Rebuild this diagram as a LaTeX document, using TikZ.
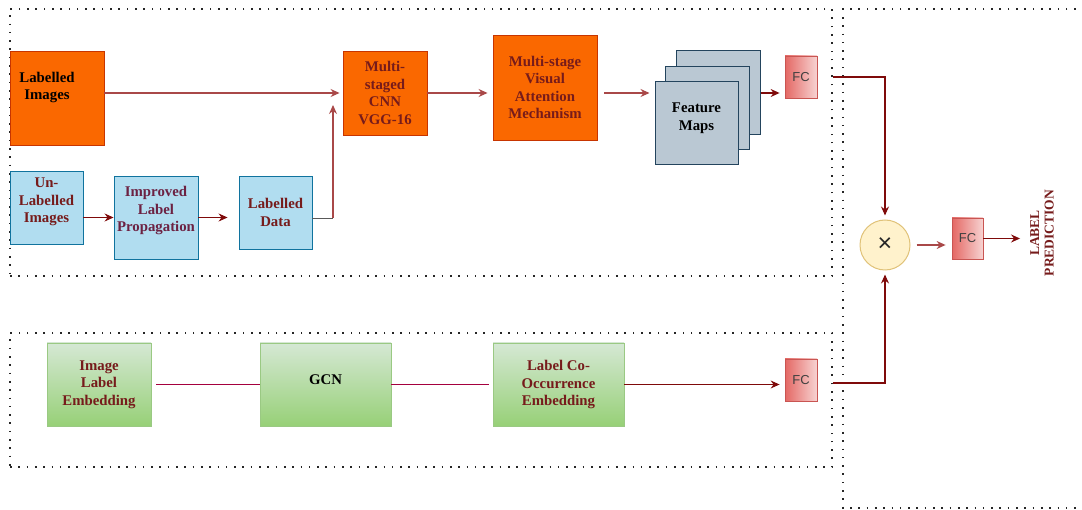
\documentclass[tikz,border=0pt]{standalone}
\usepackage{fontspec}
\setmainfont{Liberation Serif}
\newfontfamily\fcfont{Liberation Sans}
\usetikzlibrary{arrows.meta,calc}

\definecolor{orfill}{HTML}{FA6800}
\definecolor{ordraw}{HTML}{C73500}
\definecolor{blfill}{HTML}{B1DDF0}
\definecolor{bldraw}{HTML}{10739E}
\definecolor{fmfill}{HTML}{BAC8D3}
\definecolor{fmdraw}{HTML}{23445D}
\definecolor{grtop}{HTML}{D5E8D4}
\definecolor{grbot}{HTML}{97D077}
\definecolor{grdraw}{HTML}{9AC983}
\definecolor{fcdark}{HTML}{E46864}
\definecolor{fclight}{HTML}{F7D3D2}
\definecolor{fcdraw}{HTML}{C95552}
\definecolor{mulfill}{HTML}{FFF2CC}
\definecolor{muldraw}{HTML}{E0C278}
\definecolor{txtred}{HTML}{761B1B}
\definecolor{txtplum}{HTML}{6C2142}
\definecolor{linkrose}{HTML}{A94848}
\definecolor{linkdark}{HTML}{7F0A0A}
\definecolor{linkcrim}{HTML}{A5003E}

\begin{document}
\begin{tikzpicture}[x=1pt,y=-1pt,
  boxtxt/.style={font=\bfseries\fontsize{14.8}{17.5}\selectfont, align=center},
  orbox/.style={draw=ordraw, fill=orfill, line width=0.9pt, inner sep=0pt, boxtxt, text=txtred},
  blbox/.style={draw=bldraw, fill=blfill, line width=0.9pt, inner sep=0pt, boxtxt, text=txtred},
  fmbox/.style={draw=fmdraw, fill=fmfill, line width=1pt, inner sep=0pt, boxtxt, text=black,
                minimum width=83pt, minimum height=83pt},
  grbox/.style={draw=grdraw, top color=grtop, bottom color=grbot, line width=0.9pt,
                inner sep=0pt, boxtxt, text=txtred, minimum height=83pt},
  fcbox/.style={draw=fcdraw, left color=fcdark, right color=fclight, line width=0.8pt,
                inner sep=0pt, font=\fcfont\fontsize{13}{15}\selectfont, text=black!75},
  dotbox/.style={draw=black!85, line width=1.6pt, dash pattern=on 1.6pt off 6.7pt, inner sep=0pt},
  tip/.style={-{Stealth[length=9pt,width=8pt,inset=3pt]}},
  arr/.style={tip, draw=linkrose, line width=1.2pt},
  arrd/.style={tip, draw=linkdark, line width=1.2pt},
  plain/.style={draw=linkcrim, line width=1.1pt}]

\useasboundingbox (0,0) rectangle (1082,510);

% dotted containers
\node[dotbox, minimum width=822pt, minimum height=267pt] (topbox) at (421,142.5) {};
\node[dotbox, minimum width=822pt, minimum height=134pt] (botbox) at (421,400) {};
\draw[draw=black!85, line width=1.6pt, dash pattern=on 1.6pt off 6.7pt]
  (1084,9) -- (843,9) -- (843,508) -- (1084,508);

% upper branch
\node[orbox, minimum width=94pt, minimum height=94pt,
  label={[boxtxt, text=black, xshift=-10pt, yshift=10.5pt]center:Labelled\\Images}] (li) at (57,98) {};
\node[orbox, minimum width=84pt, minimum height=84pt] (cnn) at (385,93) {Multi-\\staged\\CNN\\VGG-16};
\node[orbox, minimum width=104pt, minimum height=105pt] (mvam) at (545,87.5) {Multi-stage\\Visual\\Attention\\Mechanism};

\node[blbox, minimum width=73pt, minimum height=73pt,
  label={[boxtxt, text=txtred, yshift=5.5pt]center:Un-\\Labelled\\Images}] (ul) at (46.5,207.5) {};
\node[blbox, minimum width=84pt, minimum height=83pt,
  label={[boxtxt, text=txtplum, yshift=6.5pt]center:Improved\\Label\\Propagation}] (ilp) at (156,217.5) {};
\node[blbox, minimum width=73pt, minimum height=73pt] (ld) at (275.5,212.5) {Labelled\\Data};

\node[fmbox, minimum width=84pt, minimum height=84pt] (fm3) at (718,93) {};
\node[fmbox, minimum width=84pt] (fm2) at (707,108.5) {};
\node[fmbox, label={[boxtxt, text=black, yshift=5.5pt]center:Feature\\Maps}] (fm1) at (696.5,123.5) {};

\node[fcbox, minimum width=32pt, minimum height=42pt] (fc1) at (801,77) {FC};

% lower branch
\node[grbox, minimum width=104pt] (ile) at (99,384.5) {Image\\Label\\Embedding};
\node[grbox, minimum width=131pt,
  label={[boxtxt, text=black, yshift=4.5pt]center:GCN}] (gcn) at (325.5,384.5) {};
\node[grbox, minimum width=131pt] (lce) at (558.5,384.5) {Label Co-\\Occurrence\\Embedding};
\node[fcbox, minimum width=32pt, minimum height=42pt] (fc2) at (801,380) {FC};

% fusion and output
\node[circle, draw=muldraw, fill=mulfill, line width=1pt, minimum size=50pt, inner sep=0pt,
  font=\fcfont\fontsize{25}{25}\selectfont, text=black!85] (mul) at (885,245) {\char"00D7};
\node[fcbox, minimum width=31pt, minimum height=41pt] (fc3) at (967.5,238.5) {FC};
\node[rotate=90, inner sep=0pt, font=\bfseries\fontsize{13.5}{14.5}\selectfont, text=txtred,
  align=center] (pred) at (1042,233) {LABEL\\PREDICTION};

% connectors, upper branch
\coordinate (liout) at ($(li.east)+(0,-5)$);
\draw[arr, shorten >=3pt] (liout) -- (liout -| cnn.west);
\draw[arr, shorten >=5pt] (cnn.east) -- (cnn.east -| mvam.west);
\draw[arr, shorten <=7pt, shorten >=5pt] (mvam.east |- cnn.east) -- (fm1.west |- cnn.east);
\draw[arrd, shorten >=5pt] (fm3.east) -- (fm3.east -| fc1.west);
\draw[arrd] (ul.east |- ilp.west) -- (ilp.west);
\draw[arrd, shorten >=11pt] (ilp.east) -- (ilp.east -| ld.west);

\coordinate (ldbend) at (333,218.3);
\coordinate (cnnin) at (333,105);
\draw[draw=black!65, line width=1.2pt] (ld.east |- ldbend) -- (ldbend);
\draw[arr] (ldbend) -- (cnnin);

% connectors, lower branch
\draw[plain, shorten <=5pt] (ile.east) -- (gcn.west);
\draw[plain, shorten >=4pt] (gcn.east) -- (lce.west);
\draw[arrd, shorten >=5pt] (lce.east) -- (lce.east -| fc2.west);

% fusion
\coordinate (fc2out) at ($(botbox.east |- fc2.east)+(0,3)$);
\draw[arrd, shorten >=4pt] (topbox.east |- fc1.east) -| (mul.north);
\draw[arrd, shorten >=4pt] (fc2out) -| (mul.south);
\draw[arr, shorten <=6pt, shorten >=6pt] (mul.east) -- (mul.east -| fc3.west);
\draw[arrd, shorten >=10pt] (fc3.east) -- (fc3.east -| pred.north);
\end{tikzpicture}
\end{document}
